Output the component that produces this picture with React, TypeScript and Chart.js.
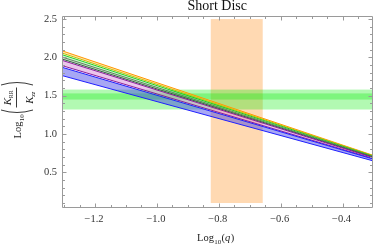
import React, { useEffect, useRef } from 'react';
import { Chart, registerables } from 'chart.js';

Chart.register(...registerables);

// ---- data ----
const logQ = [-1.307, -0.303];
const orangeHi = [2.086, 0.725];
const orangeLo = [2.057, 0.72];
const greenHi = [2.036, 0.714];
const greenLo = [2.005, 0.708];
const darkLo = [1.979, 0.702];
const purpleHi = [1.962, 0.695];
const purpleLo = [1.893, 0.683];
const blueHi = [1.871, 0.676];
const blueLo = [1.763, 0.652];

const qBand = [-0.826, -0.658];
const qBandY = [0.1, 2.5];
const ratioOuter = [1.32, 1.58];
const ratioInner = [1.45, 1.53];

const xMajor = [-1.2, -1.0, -0.8, -0.6, -0.4];
const xTickLabels = ['−1.2', '−1.0', '−0.8', '−0.6', '−0.4'];
const yMajor = [0.5, 1.0, 1.5, 2.0, 2.5];
const yTickLabels = ['0.5', '1.0', '1.5', '2.0', '2.5'];

const X_MIN = -1.307;
const X_MAX = -0.303;
const Y_MIN = 0.035;
const Y_MAX = 2.54;

const SERIF = '"Liberation Serif", "Times New Roman", serif';
const FRAME = '#9a9a9a';
const TEXT = '#333333';

const pts = (ys: number[]) => logQ.map((x, i) => ({ x, y: ys[i] }));

const decor = {
  id: 'decor',
  beforeDatasetsDraw(chart: any) {
    const { ctx, chartArea: a, scales } = chart;
    const xs = scales.x, ys = scales.y;
    ctx.save();
    ctx.beginPath();
    ctx.rect(a.left, a.top, a.right - a.left, a.bottom - a.top);
    ctx.clip();
    // vertical band
    const x0 = xs.getPixelForValue(qBand[0]);
    const x1 = xs.getPixelForValue(qBand[1]);
    const y0 = ys.getPixelForValue(qBandY[1]);
    const y1 = ys.getPixelForValue(qBandY[0]);
    ctx.fillStyle = 'rgba(255,128,0,0.3)';
    ctx.fillRect(x0, y0, x1 - x0, y1 - y0);
    // horizontal bands
    ctx.fillStyle = 'rgba(0,235,0,0.3)';
    for (const r of [ratioOuter, ratioInner]) {
      const t = ys.getPixelForValue(r[1]);
      const b = ys.getPixelForValue(r[0]);
      ctx.fillRect(a.left, t, a.right - a.left, b - t);
    }
    ctx.restore();
  },
  afterDraw(chart: any) {
    const { ctx, chartArea: a, scales } = chart;
    const xs = scales.x, ys = scales.y;
    ctx.save();
    // frame
    const L = Math.round(a.left) + 0.5;
    const R = Math.round(a.right) - 0.5;
    const T = Math.round(a.top) + 0.5;
    const B = Math.round(a.bottom) - 0.5;
    ctx.strokeStyle = FRAME;
    ctx.lineWidth = 1;
    ctx.beginPath();
    ctx.rect(L, T, R - L, B - T);
    ctx.stroke();
    // ticks
    ctx.beginPath();
    for (let v = -1.3; v <= X_MAX + 1e-9; v += 0.05) {
      const vr = Math.round(v * 100) / 100;
      const major = Math.abs(vr * 5 - Math.round(vr * 5)) < 1e-6;
      const len = major ? 4 : 2.5;
      const px = Math.round(xs.getPixelForValue(vr)) + 0.5;
      ctx.moveTo(px, B); ctx.lineTo(px, B - len);
      ctx.moveTo(px, T); ctx.lineTo(px, T + len);
    }
    for (let v = 0.1; v <= Y_MAX + 1e-9; v += 0.1) {
      const vr = Math.round(v * 10) / 10;
      const major = Math.abs(vr * 2 - Math.round(vr * 2)) < 1e-6;
      const len = major ? 4 : 2.5;
      const py = Math.round(ys.getPixelForValue(vr)) + 0.5;
      ctx.moveTo(L, py); ctx.lineTo(L + len, py);
      ctx.moveTo(R, py); ctx.lineTo(R - len, py);
    }
    ctx.stroke();
    // tick labels
    ctx.fillStyle = TEXT;
    ctx.font = `10.5px ${SERIF}`;
    ctx.textAlign = 'center';
    ctx.textBaseline = 'alphabetic';
    xMajor.forEach((v, i) => {
      ctx.fillText(xTickLabels[i], xs.getPixelForValue(v) - 1, 222);
    });
    ctx.textAlign = 'right';
    ctx.textBaseline = 'middle';
    yMajor.forEach((v, i) => {
      ctx.fillText(yTickLabels[i], 57, ys.getPixelForValue(v));
    });
    // title
    ctx.fillStyle = '#111';
    ctx.textAlign = 'center';
    ctx.textBaseline = 'alphabetic';
    ctx.font = `14px ${SERIF}`;
    ctx.fillText('Short Disc', (a.left + a.right) / 2, 10);
    // x-axis label
    ctx.fillStyle = '#222';
    ctx.textAlign = 'left';
    let x = 197;
    ctx.font = `10.5px ${SERIF}`;
    ctx.fillText('Log', x, 241); x += ctx.measureText('Log').width;
    ctx.font = `7px ${SERIF}`;
    ctx.fillText('10', x + 0.3, 243.5); x += ctx.measureText('10').width + 0.6;
    ctx.font = `10.5px ${SERIF}`;
    ctx.fillText('(', x, 241); x += ctx.measureText('(').width;
    ctx.font = `italic 10.5px ${SERIF}`;
    ctx.fillText('q', x, 241); x += ctx.measureText('q').width + 0.5;
    ctx.font = `10.5px ${SERIF}`;
    ctx.fillText(')', x, 241);
    // y-axis label (rotated)
    ctx.translate(21, 138.5);
    ctx.rotate(-Math.PI / 2);
    ctx.font = `10.5px ${SERIF}`;
    ctx.fillText('Log', 0, 0);
    const wLog = ctx.measureText('Log').width;
    ctx.font = `7px ${SERIF}`;
    ctx.fillText('10', wLog + 0.3, 2.5);
    ctx.strokeStyle = '#222';
    ctx.lineWidth = 0.9;
    ctx.beginPath();
    ctx.moveTo(28.5, -20); ctx.quadraticCurveTo(23.5, -4, 28.5, 12);
    ctx.moveTo(53.5, -20); ctx.quadraticCurveTo(58.5, -4, 53.5, 12);
    ctx.moveTo(31, -4.5); ctx.lineTo(51, -4.5);
    ctx.stroke();
    // numerator K_RR
    ctx.font = `italic 11px ${SERIF}`;
    const wK = ctx.measureText('K').width;
    ctx.font = `6px ${SERIF}`;
    const wRR = ctx.measureText('RR').width;
    let nx = 41 - (wK + wRR) / 2;
    ctx.font = `italic 11px ${SERIF}`;
    ctx.fillText('K', nx, -10.5);
    ctx.font = `6px ${SERIF}`;
    ctx.fillText('RR', nx + wK - 0.5, -8.5);
    // denominator K_zz
    ctx.font = `italic 6.5px ${SERIF}`;
    const wzz = ctx.measureText('zz').width;
    let dx = 41 - (wK + wzz) / 2;
    ctx.font = `italic 11px ${SERIF}`;
    ctx.fillText('K', dx, 11.5);
    ctx.font = `italic 6.5px ${SERIF}`;
    ctx.fillText('zz', dx + wK - 0.5, 13.5);
    ctx.restore();
  },
};

function line(data: number[], color: string, fill: any = false, bg = 'transparent') {
  return {
    data: pts(data),
    borderColor: color,
    backgroundColor: bg,
    borderWidth: 1,
    pointRadius: 0,
    fill,
    tension: 0,
  };
}

export default function App() {
  const ref = useRef<HTMLCanvasElement | null>(null);
  useEffect(() => {
    document.body.style.margin = '0';
    const canvas = ref.current!;
    const chart = new Chart(canvas, {
      type: 'line',
      data: {
        datasets: [
          line(blueLo, '#2020ff'),
          line(blueHi, '#2020ff', '-1', 'rgba(60,60,230,0.45)'),
          line(purpleLo, '#8a1a9a'),
          line(purpleHi, '#8a1a9a', '-1', 'rgba(215,140,215,0.5)'),
          line(darkLo, '#2f6a3a'),
          line(greenLo, '#5a8a5a', '-1', 'rgba(120,150,120,0.35)'),
          line(greenHi, '#22cc22', '-1', 'rgba(110,230,110,0.35)'),
          line(orangeLo, '#c8c000'),
          line(orangeHi, '#ff9900', '-1', 'rgba(255,190,80,0.45)'),
        ] as any,
      },
      options: {
        responsive: false,
        animation: false,
        events: [],
        layout: { padding: { left: 62, top: 16, right: 0.5, bottom: 37 } },
        plugins: { legend: { display: false }, tooltip: { enabled: false }, title: { display: false } },
        scales: {
          x: { type: 'linear', min: X_MIN, max: X_MAX, display: false },
          y: { type: 'linear', min: Y_MIN, max: Y_MAX, display: false },
        },
      },
      plugins: [decor],
    });
    return () => chart.destroy();
  }, []);
  return (
    <div style={{ position: 'absolute', left: 0, top: 0, width: 373, height: 245, background: '#fff' }}>
      <canvas ref={ref} width={373} height={245} style={{ display: 'block' }} />
    </div>
  );
}
